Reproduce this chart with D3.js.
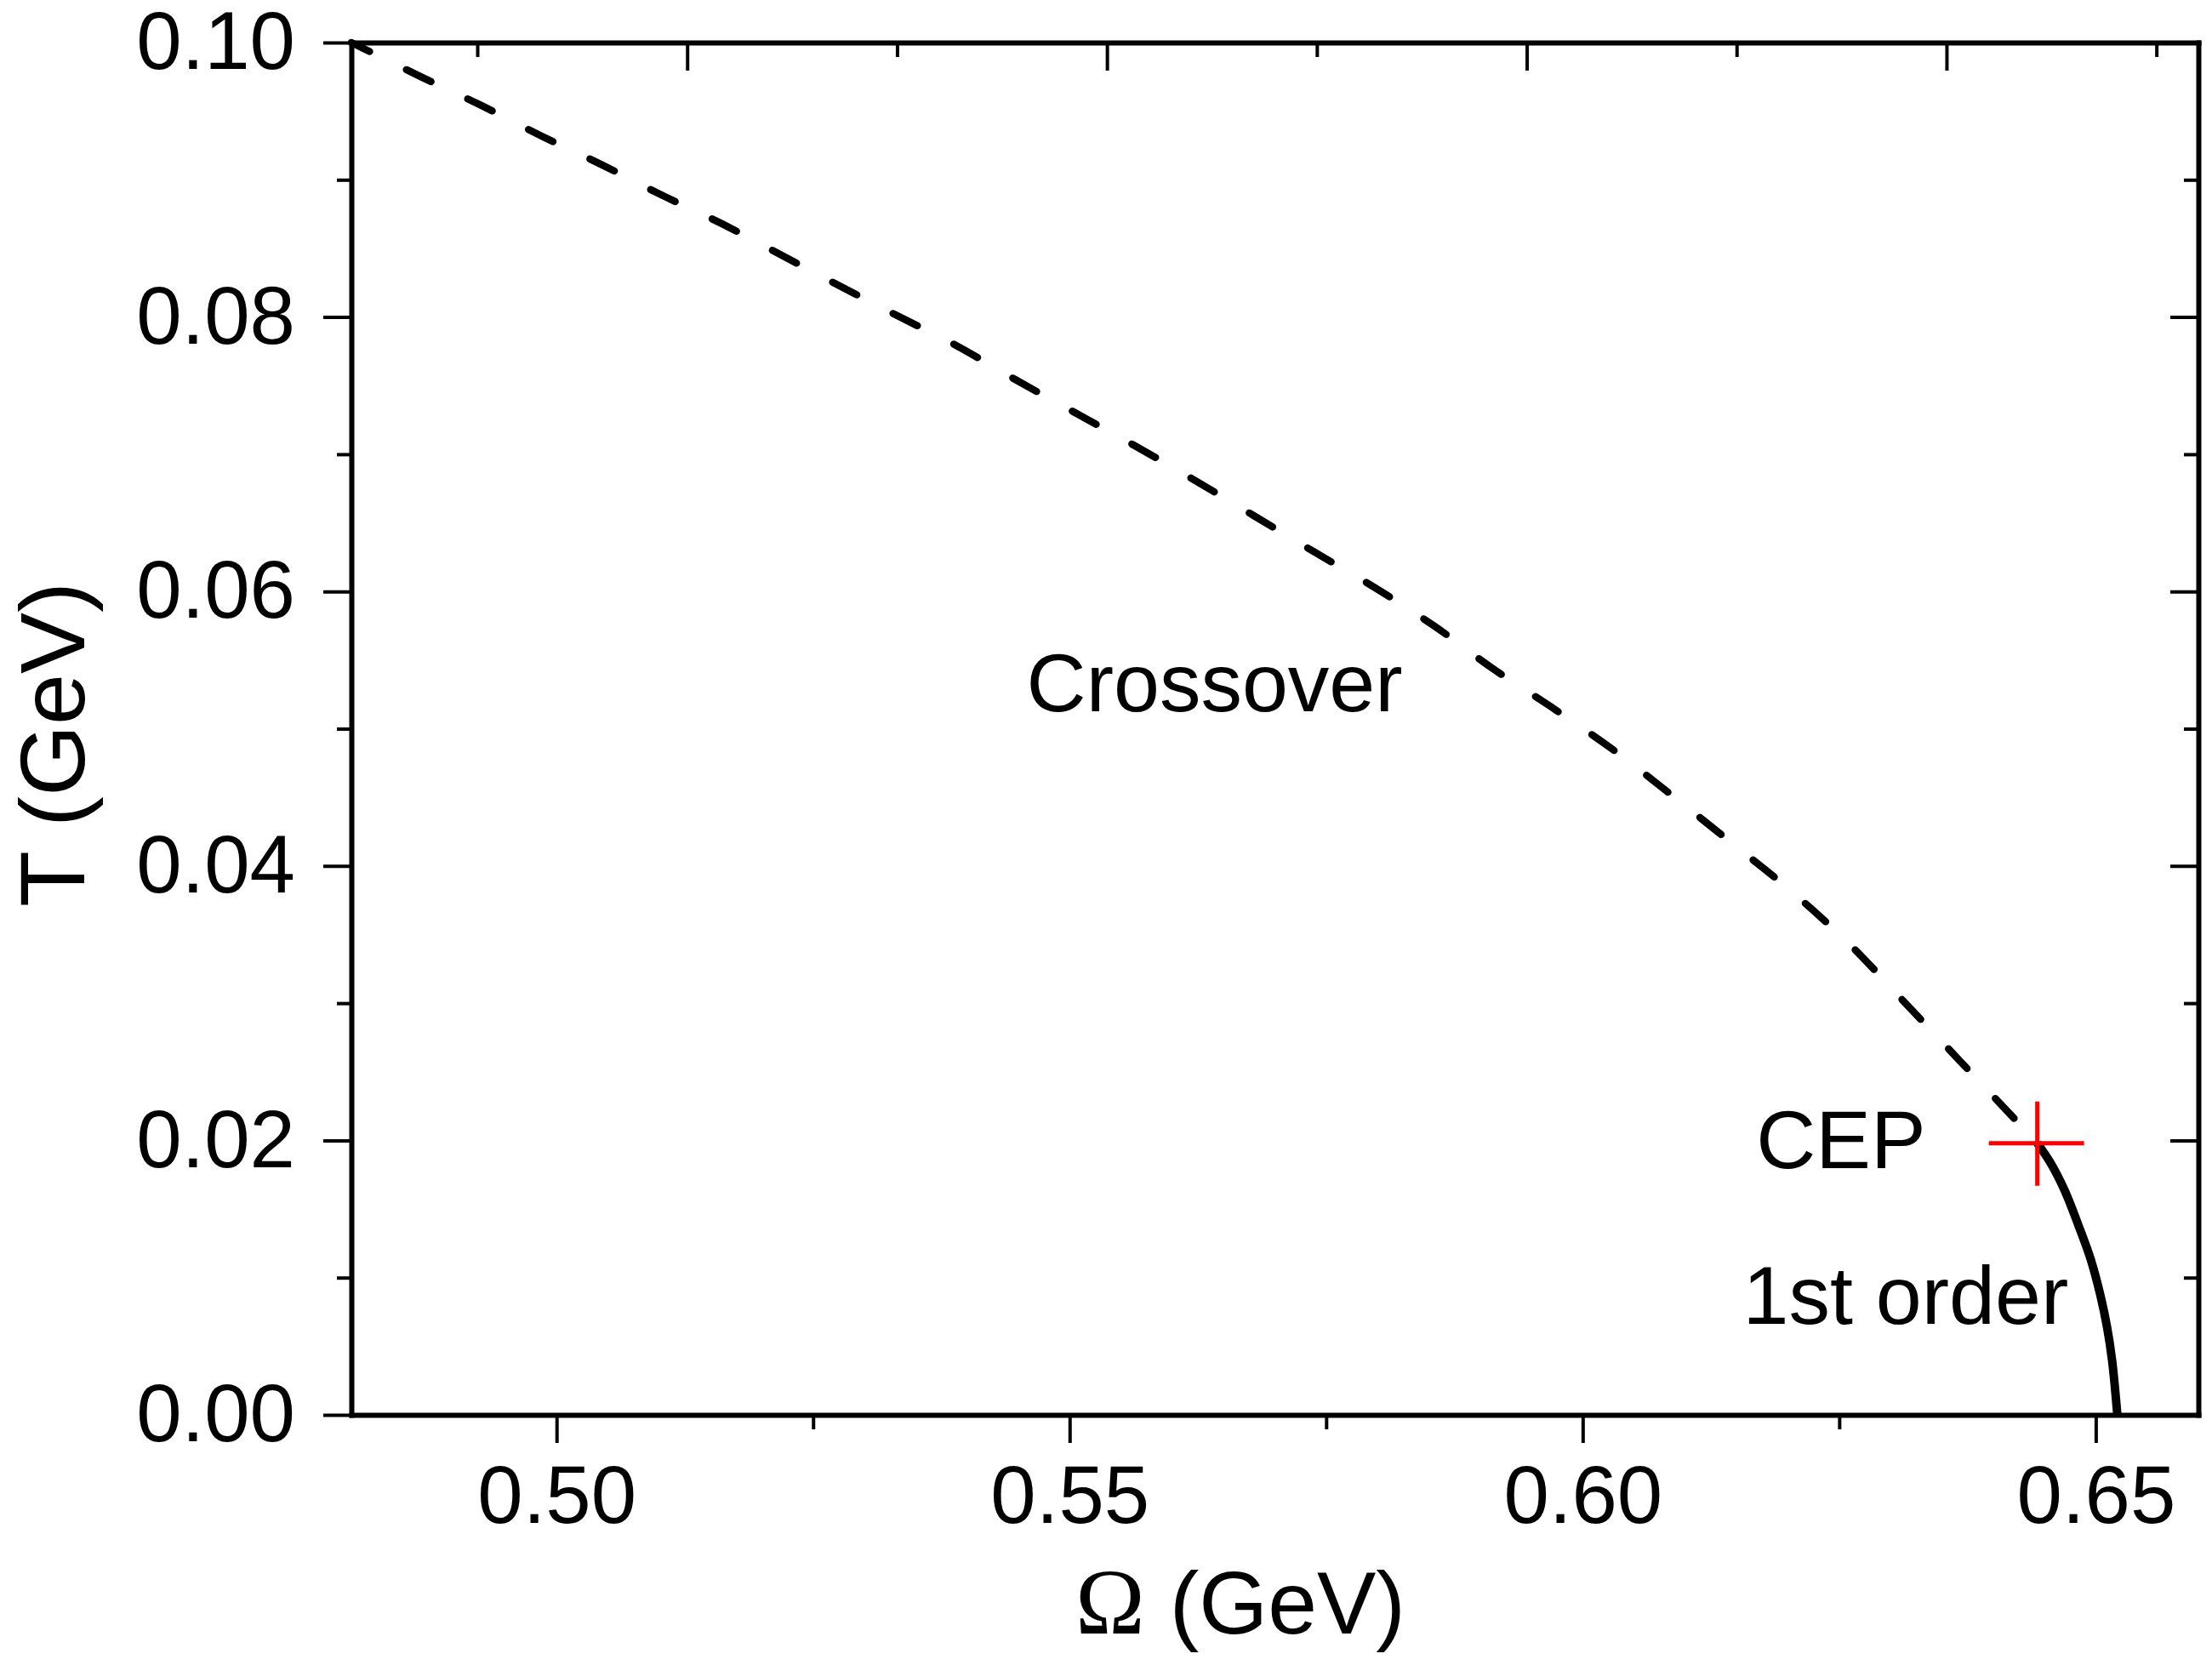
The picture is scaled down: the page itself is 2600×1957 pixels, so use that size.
<!DOCTYPE html>
<html>
<head>
<meta charset="utf-8">
<script src="https://cdn.jsdelivr.net/npm/d3@7"></script>
<style>
  body { margin: 0; background: #fff; }
  svg { display: block; }
  text { font-family: "Liberation Sans", Arial, Helvetica, sans-serif; fill: #000; }
</style>
</head>
<body>
<script>
// crossover line (dashed), Omega in GeV vs T in GeV
var crossOmega = [0.4800, 0.4868, 0.4927, 0.4985, 0.5044, 0.5102, 0.5161, 0.5217, 0.5275, 0.5332,
  0.5390, 0.5448, 0.5506, 0.5564, 0.5622, 0.5680, 0.5738, 0.5797, 0.5855, 0.5912,
  0.5971, 0.6029, 0.6086, 0.6143, 0.6201, 0.6260, 0.6317, 0.6370, 0.6428, 0.6443];
var crossT = [0.1000, 0.0975, 0.0954, 0.0932, 0.0911, 0.0889, 0.0868, 0.0846, 0.0823, 0.0801,
  0.0779, 0.0754, 0.0730, 0.0706, 0.0681, 0.0655, 0.0629, 0.0603, 0.0575, 0.0544,
  0.0515, 0.0485, 0.0452, 0.0418, 0.0383, 0.0343, 0.0298, 0.0256, 0.0210, 0.0198];

// first order line (solid)
var firstOmega = [0.6443, 0.6456, 0.6470, 0.6483, 0.6495, 0.6504, 0.6511, 0.6516, 0.6521];
var firstT = [0.0198, 0.01835, 0.01630, 0.01383, 0.01135, 0.00887, 0.00639, 0.00391, 0.0];

// critical end point
var cep = [0.6443, 0.0198];

var xTicks = [0.50, 0.55, 0.60, 0.65];
var xMinor = [0.525, 0.575, 0.625];
var topTicks = [0.50, 0.55, 0.60, 0.65];
var topMinor = [0.475, 0.525, 0.575, 0.625, 0.675];
var yTicks = [0.00, 0.02, 0.04, 0.06, 0.08, 0.10];
var yMinor = [0.01, 0.03, 0.05, 0.07, 0.09];

var notes = [
  { text: "Crossover", x: 0.5458, y: 0.0513 },
  { text: "CEP", x: 0.6169, y: 0.0180 },
  { text: "1st order", x: 0.6156, y: 0.00663 }
];

var width = 2600, height = 1957;
var margin = ({ top: 50, right: 16, bottom: 294, left: 413 });

var svg = d3.select("body").append("svg")
  .attr("width", width)
  .attr("height", height)
  .attr("viewBox", [0, 0, width, height]);

var x = d3.scaleLinear().domain([0.48, 0.66]).range([margin.left, width - margin.right]);
// top axis carries its own (unlabelled) scale in the original
var xTop = d3.scaleLinear().domain([0.46, 0.68]).range([margin.left, width - margin.right]);
var y = d3.scaleLinear().domain([0, 0.10]).range([height - margin.bottom, margin.top]);

var tickFont = 96;
var majorLen = 33, minorLen = 17, axisW = 6;

function styleAxis(g) {
  g.select(".domain").attr("stroke", "#000").attr("stroke-width", axisW).attr("stroke-linecap", "square");
  g.selectAll(".tick line").attr("stroke", "#000").attr("stroke-width", 4);
  g.selectAll("text").style("font-size", tickFont + "px").attr("fill", "#000");
}

// bottom axis, ticks outward
svg.append("g")
  .attr("transform", "translate(0," + y(0) + ")")
  .call(d3.axisBottom(x).tickValues(xTicks).tickFormat(d3.format(".2f"))
    .tickSizeInner(majorLen).tickSizeOuter(0).tickPadding(26))
  .call(styleAxis);
svg.append("g")
  .attr("transform", "translate(0," + y(0) + ")")
  .call(d3.axisBottom(x).tickValues(xMinor).tickFormat("").tickSizeInner(minorLen).tickSizeOuter(0))
  .call(styleAxis)
  .call(g => g.select(".domain").remove());

// top axis, ticks inward, no labels
svg.append("g")
  .attr("transform", "translate(0," + y(0.10) + ")")
  .call(d3.axisTop(xTop).tickValues(topTicks).tickFormat("").tickSizeInner(-majorLen).tickSizeOuter(0))
  .call(styleAxis);
svg.append("g")
  .attr("transform", "translate(0," + y(0.10) + ")")
  .call(d3.axisTop(xTop).tickValues(topMinor).tickFormat("").tickSizeInner(-minorLen).tickSizeOuter(0))
  .call(styleAxis)
  .call(g => g.select(".domain").remove());

// left axis, ticks outward
svg.append("g")
  .attr("transform", "translate(" + x(0.48) + ",0)")
  .call(d3.axisLeft(y).tickValues(yTicks).tickFormat(d3.format(".2f"))
    .tickSizeInner(majorLen).tickSizeOuter(0).tickPadding(33))
  .call(styleAxis);
svg.append("g")
  .attr("transform", "translate(" + x(0.48) + ",0)")
  .call(d3.axisLeft(y).tickValues(yMinor).tickFormat("").tickSizeInner(minorLen).tickSizeOuter(0))
  .call(styleAxis)
  .call(g => g.select(".domain").remove());

// right axis, ticks inward
svg.append("g")
  .attr("transform", "translate(" + x(0.66) + ",0)")
  .call(d3.axisRight(y).tickValues(yTicks).tickFormat("").tickSizeInner(-majorLen).tickSizeOuter(0))
  .call(styleAxis);
svg.append("g")
  .attr("transform", "translate(" + x(0.66) + ",0)")
  .call(d3.axisRight(y).tickValues(yMinor).tickFormat("").tickSizeInner(-minorLen).tickSizeOuter(0))
  .call(styleAxis)
  .call(g => g.select(".domain").remove());

// axis titles
var xTitle = svg.append("text")
  .attr("x", 1458)
  .attr("y", 1920)
  .attr("text-anchor", "middle")
  .style("font-size", "104px");
xTitle.append("tspan").style("font-family", "'Liberation Serif', 'Times New Roman', serif")
  .style("font-size", "110px").text("Ω");
xTitle.append("tspan").text(" (GeV)");

svg.append("text")
  .attr("transform", "translate(99," + 875 + ") rotate(-90)")
  .attr("text-anchor", "middle")
  .style("font-size", "108px")
  .text("T (GeV)");

// curves
var line = d3.line()
  .x(d => x(d[0]))
  .y(d => y(d[1]))
  .curve(d3.curveCatmullRom);

var crossData = crossOmega.map((d, i) => [d, crossT[i]]);
var firstData = firstOmega.map((d, i) => [d, firstT[i]]);

svg.append("path")
  .attr("d", line(crossData))
  .attr("fill", "none")
  .attr("stroke", "#000")
  .attr("stroke-width", 8.5)
  .attr("stroke-linecap", "round")
  .attr("stroke-dasharray", "32,48")
  .attr("stroke-dashoffset", 8);

svg.append("path")
  .attr("d", line(firstData))
  .attr("fill", "none")
  .attr("stroke", "#000")
  .attr("stroke-width", 10);

// CEP marker
var cx = x(cep[0]), cy = y(cep[1]);
svg.append("path")
  .attr("d", "M" + (cx - 57) + "," + cy + "H" + (cx + 55) + "M" + cx + "," + (cy - 49) + "V" + (cy + 50))
  .attr("stroke", "#ff0000")
  .attr("stroke-width", 5)
  .attr("fill", "none");

// annotations
svg.selectAll("text.note")
  .data(notes)
  .enter().append("text")
  .attr("class", "note")
  .attr("x", d => x(d.x))
  .attr("y", d => y(d.y))
  .style("font-size", "97px")
  .text(d => d.text);
</script>
</body>
</html>
